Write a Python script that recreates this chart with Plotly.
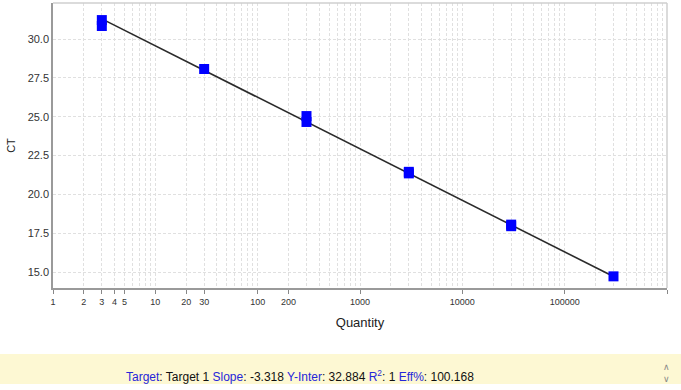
import plotly.graph_objects as go

# data
quantity = [3, 3, 30, 300, 300, 3000, 3000, 30000, 30000, 300000]
ct = [31.22, 30.84, 28.07, 25.04, 24.66, 21.45, 21.35, 18.05, 17.95, 14.72]
fit_q = [3, 300000]
fit_ct = [31.30, 14.71]
x_tickvals = [1, 2, 3, 4, 5, 10, 20, 30, 100, 200, 1000, 10000, 100000, 1000000]
x_ticktext = ["1", "2", "3", "4", "5", "10", "20", "30", "100", "200", "1000", "10000", "100000", "1000000"]
y_tickvals = [15.0, 17.5, 20.0, 22.5, 25.0, 27.5, 30.0]
minor_vals = [m * 10 ** d for d in range(6) for m in range(1, 10)] + [1000000]

W, H = 681, 390
ml, mr, mt, mb = 53, 14, 3, 102
pw, ph = W - ml - mr, H - mt - mb

def px2paper_y(py):
    return (H - mb - py) / ph

def px2paper_x(px):
    return (px - ml) / pw

fig = go.Figure()
fig.add_trace(go.Scatter(x=fit_q, y=fit_ct, mode="lines",
                         line=dict(color="#2a2a2a", width=1.6), hoverinfo="skip"))
fig.add_trace(go.Scatter(x=quantity, y=ct, mode="markers",
                         marker=dict(symbol="square", size=10, color="#0000ff",
                                     line=dict(width=0))))

grid = "#e0e0e0"
gdash = "3px,2px"
fig.update_xaxes(type="log", range=[0, 6], tickvals=x_tickvals, ticktext=x_ticktext,
                 showgrid=True, gridcolor=grid, griddash=gdash, gridwidth=1,
                 minor=dict(tickvals=minor_vals, showgrid=True, gridcolor=grid,
                            griddash=gdash, ticks=""),
                 ticks="outside", ticklen=4, tickcolor="#888888",
                 showline=True, linecolor="#9a9a9a", linewidth=1.5, mirror=False,
                 tickfont=dict(family="Liberation Sans, Arial", size=9, color="#333333"),
                 title=dict(text="Quantity", standoff=12,
                            font=dict(family="Liberation Sans, Arial", size=13, color="#222222")),
                 zeroline=False, automargin=False)
fig.update_yaxes(range=[13.97, 32.32], tickvals=y_tickvals, tickformat=".1f",
                 showgrid=True, gridcolor=grid, griddash=gdash, gridwidth=1,
                 ticks="", showline=True, linecolor="#9a9a9a", linewidth=1.5,
                 tickfont=dict(family="Liberation Sans, Arial", size=11, color="#333333"),
                 title=dict(text="CT", standoff=10,
                            font=dict(family="Liberation Sans, Arial", size=11, color="#222222")),
                 zeroline=False, automargin=False)

shapes = [
    dict(type="line", xref="paper", yref="paper", x0=0, x1=1, y0=1, y1=1,
         line=dict(color="#cfcfcf", width=1.5)),
    dict(type="line", xref="paper", yref="paper", x0=1, x1=1, y0=0, y1=1,
         line=dict(color="#cfcfcf", width=1.5)),
    dict(type="rect", xref="paper", yref="paper", x0=px2paper_x(0), x1=px2paper_x(W),
         y0=px2paper_y(384), y1=px2paper_y(354), fillcolor="#fdf8d3", line=dict(width=0),
         layer="below"),
]

blue = "#2626d9"
txt = (f"<span style='color:{blue}'>Target</span>: Target 1 "
       f"<span style='color:{blue}'>Slope</span>: -3.318 "
       f"<span style='color:{blue}'>Y-Inter</span>: 32.884 "
       f"<span style='color:{blue}'>R<sup>2</sup></span>: 1 "
       f"<span style='color:{blue}'>Eff%</span>: 100.168")
annotations = [
    dict(text=txt, xref="paper", yref="paper", x=px2paper_x(124), y=px2paper_y(376),
         xanchor="left", yanchor="middle", showarrow=False,
         font=dict(family="Liberation Sans, Arial", size=12, color="#111111")),
    dict(text="∧", xref="paper", yref="paper", x=px2paper_x(666), y=px2paper_y(367),
         xanchor="center", yanchor="middle", showarrow=False,
         font=dict(family="DejaVu Sans", size=9, color="#888888")),
    dict(text="∨", xref="paper", yref="paper", x=px2paper_x(666), y=px2paper_y(379),
         xanchor="center", yanchor="middle", showarrow=False,
         font=dict(family="DejaVu Sans", size=9, color="#888888")),
]

fig.update_layout(width=W, height=H, margin=dict(l=ml, r=mr, t=mt, b=mb),
                  paper_bgcolor="white", plot_bgcolor="white", showlegend=False,
                  shapes=shapes, annotations=annotations)

fig.write_html("out.html", config={"displayModeBar": False},
               post_script="document.body.style.margin='0px';document.body.style.overflow='hidden';")
